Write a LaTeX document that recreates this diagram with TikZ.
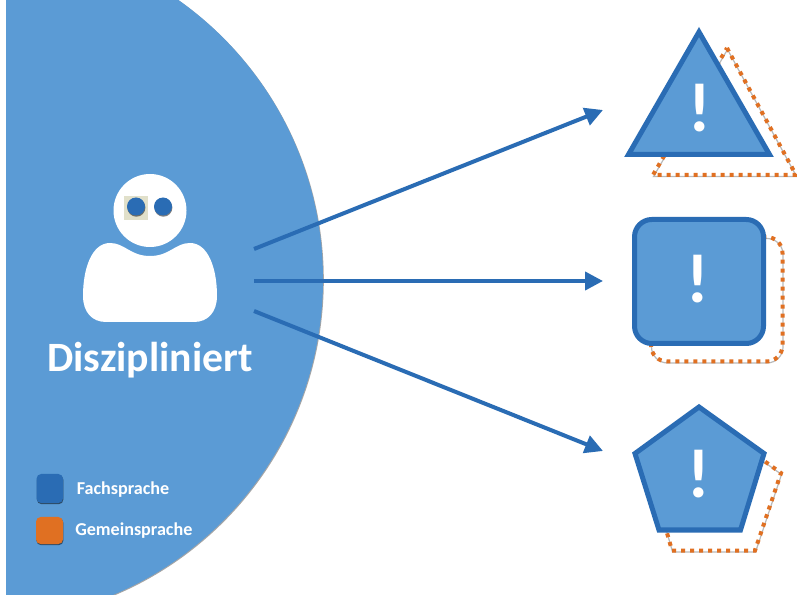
\documentclass[tikz,border=0pt]{standalone}
\usepackage{fontspec}
\setmainfont{Carlito}
\usetikzlibrary{arrows.meta,shadows,positioning}
\definecolor{lightblue}{HTML}{5B9BD5}
\definecolor{darkblue}{HTML}{2A6CB4}
\definecolor{dotorange}{HTML}{E07022}
\tikzset{
	softshadow/.style={drop shadow={shadow xshift=0.3pt, shadow yshift=-0.9pt, opacity=0.5, fill=black}},
	warnshape/.style={draw=darkblue, fill=lightblue, line width=3.75pt, softshadow},
	dotshape/.style={draw=dotorange, line width=3pt, dash pattern=on 3pt off 3.75pt},
	dotshade/.style={draw=gray!55, line width=0.9pt, xshift=0.4pt, yshift=-1.1pt},
	bigarrow/.style={draw=darkblue, line width=3pt, -{Triangle[length=13.5pt,width=13.5pt]}},
	warnmark/.style={text=white, font=\fontsize{52}{52}\selectfont\bfseries, inner sep=0pt},
	legendbox/.style={line width=0pt, rounded corners=3.5pt, softshadow},
	legendtext/.style={text=white, font=\fontsize{13.6}{15}\selectfont\bfseries, inner sep=0pt}
}
\begin{document}
\begin{tikzpicture}[x=0.75pt,y=-0.75pt]
	\useasboundingbox (0,0) rectangle (797,595);
	\fill[white] (0,0) rectangle (797,595);

	% Background disc
	\begin{scope}
		\clip (6,0) rectangle (797,595);
		\fill[lightblue, drop shadow={shadow xshift=0.6pt, shadow yshift=-0.6pt, opacity=0.35, fill=black}] (-19,279.3) circle[radius=342];
	\end{scope}

	% Person
	\fill[white] (150,210.5) circle[radius=36.5];
	\fill[white] (110,243) .. controls (125,243) and (130,256) .. (150,256)
		.. controls (170,256) and (175,243) .. (190,243)
		.. controls (208,243) and (217,268) .. (217,296)
		.. controls (217,312) and (208,322) .. (194,322)
		-- (106,322)
		.. controls (92,322) and (83,312) .. (83,296)
		.. controls (83,268) and (92,243) .. (110,243) -- cycle;
	\fill[gray!30!white!90!yellow] (124,196) rectangle (148,220);
	\fill[darkblue, softshadow] (136,206.5) circle[radius=9];
	\fill[darkblue, softshadow] (163,206.5) circle[radius=9];
	\node[text=white, font=\fontsize{31.3}{34}\selectfont\bfseries, inner sep=0pt] (title) at (150,360) {Diszipliniert};

	% Legend
	\fill[darkblue, legendbox] (36.5,474) rectangle (63,503);
	\fill[dotorange, legendbox] (36,517) rectangle (63,544);
	\node[legendtext, anchor=west] (fach) at (76.5,489.5) {Fachsprache};
	\node[legendtext, anchor=west] (gemein) at (75,531) {Gemeinsprache};

	% Triangle
	\draw[dotshade] (727,48) -- (796,175) -- (653,175) -- cycle;
	\draw[dotshape] (727,48) -- (796,175) -- (653,175) -- cycle;
	\draw[warnshape, line join=miter] (699,32) -- (769.5,154.5) -- (628.5,154.5) -- cycle;
	\node[warnmark] (warna) at (699.5,108) {!};

	% Rounded square
	\draw[dotshade, rounded corners=12pt] (651,237) rectangle (782.5,361.5);
	\draw[dotshape, rounded corners=12pt] (651,237) rectangle (782.5,361.5);
	\draw[warnshape, rounded corners=13pt] (634.5,219.5) rectangle (763.5,343.5);
	\node[warnmark] (warnb) at (697.5,279) {!};

	% Pentagon
	\draw[dotshade] (714,425) -- (781,473) -- (755,550.5) -- (672,550.5) -- (650,473) -- cycle;
	\draw[dotshape] (714,425) -- (781,473) -- (755,550.5) -- (672,550.5) -- (650,473) -- cycle;
	\draw[warnshape, line join=miter] (699,407) -- (764,453.5) -- (740.5,530) -- (659,530) -- (635,453.5) -- cycle;
	\node[warnmark] (warnc) at (698.5,474) {!};

	% Arrows
	\coordinate (froma) at (254,249);
	\coordinate (fromb) at (254,281);
	\coordinate (fromc) at (254,311);
	\coordinate (toa) at (603,110);
	\coordinate (tob) at (603,281);
	\coordinate (toc) at (603,451);
	\draw[bigarrow] (froma) -- (toa);
	\draw[bigarrow] (fromb) -- (tob);
	\draw[bigarrow] (fromc) -- (toc);
\end{tikzpicture}
\end{document}
